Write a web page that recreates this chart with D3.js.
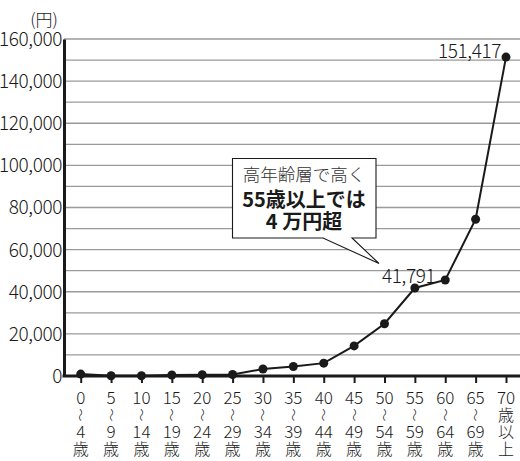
<!DOCTYPE html>
<html><head><meta charset="utf-8">
<script src="https://cdn.jsdelivr.net/npm/d3@7"></script>
<style>
html,body{margin:0;padding:0;background:#fff;}
svg{display:block;font-family:"Noto Sans CJK JP","Noto Sans",sans-serif;}
</style></head>
<body><svg id="c" width="520" height="461"></svg>
<script>
const categories = [
  ["0","4","歳"],["5","9","歳"],["10","14","歳"],["15","19","歳"],["20","24","歳"],
  ["25","29","歳"],["30","34","歳"],["35","39","歳"],["40","44","歳"],["45","49","歳"],
  ["50","54","歳"],["55","59","歳"],["60","64","歳"],["65","69","歳"],["70","歳以上"]
];
const values = [900, 100, 100, 500, 600, 700, 3300, 4500, 6100, 14300, 24800, 41791, 45600, 74400, 151417];
const yTicks = [0, 20000, 40000, 60000, 80000, 100000, 120000, 140000, 160000];
const gridValues = d3.range(10000, 160001, 10000);
const labeled = [{i: 11, text: "41,791"}, {i: 14, text: "151,417"}];
const calloutLines = ["高年齢層で高く", "55歳以上では", "4 万円超"];

const svg = d3.select("#c");
const ink = "#1a1a1a";
const lightW = 300;
const x = d3.scalePoint().domain(d3.range(categories.length)).range([80.7, 506]);
const y = d3.scaleLinear().domain([0, 160000]).range([376, 39]);

// gridlines
svg.append("g").selectAll("line").data(gridValues).join("line")
  .attr("x1", 64).attr("x2", 520)
  .attr("y1", d => y(d)).attr("y2", d => y(d))
  .attr("stroke", "#9a9a9a").attr("stroke-width", 1.3);

// y axis
const yAxis = d3.axisLeft(y).tickValues(yTicks).tickSize(0).tickPadding(2)
  .tickFormat(d3.format(","));
const gy = svg.append("g").attr("transform", "translate(64,0)").call(yAxis);
gy.select(".domain").attr("stroke", ink).attr("stroke-width", 3);
gy.selectAll("text").attr("font-size", 19).attr("font-weight", lightW).attr("fill", ink)
  .attr("letter-spacing", -0.4)
  .attr("font-family", "'Noto Sans CJK JP',sans-serif").attr("dy", "0.34em");

svg.append("text").attr("x", 44).attr("y", 26).attr("text-anchor", "middle")
  .attr("font-size", 17).attr("font-weight", lightW).attr("fill", ink).text("(円)");

// x axis
const xAxis = d3.axisBottom(x).tickSize(7).tickFormat("");
const gx = svg.append("g").attr("transform", "translate(0,376)").call(xAxis);
gx.select(".domain").attr("d", "M62.5,0H520").attr("stroke", ink).attr("stroke-width", 3);
gx.selectAll(".tick line").attr("stroke", ink).attr("stroke-width", 2);

// x tick labels (vertical stacked)
const lab = svg.append("g").attr("font-size", 17).attr("font-weight", lightW)
  .attr("fill", ink).attr("text-anchor", "middle");
categories.forEach((c, i) => {
  const cx = x(i);
  if (c.length === 3) {
    lab.append("text").attr("x", cx).attr("y", 404).text(c[0]);
    lab.append("text").attr("transform", `translate(${cx},415) rotate(90)`)
      .attr("font-size", 13).attr("dy", "0.35em").text("〜");
    lab.append("text").attr("x", cx).attr("y", 438).text(c[1]);
    lab.append("text").attr("x", cx).attr("y", 455).attr("font-size", 16).text(c[2]);
  } else {
    lab.append("text").attr("x", cx).attr("y", 404).text(c[0]);
    const rest = Array.from(c[1]);
    rest.forEach((ch, k) => lab.append("text").attr("x", cx).attr("y", 421 + k * 17)
      .attr("font-size", 16).text(ch));
  }
});

// line
const line = d3.line().x((d, i) => x(i)).y(d => y(d));
svg.append("path").datum(values).attr("d", line)
  .attr("fill", "none").attr("stroke", ink).attr("stroke-width", 2);
svg.append("g").selectAll("circle").data(values).join("circle")
  .attr("cx", (d, i) => x(i)).attr("cy", d => y(d)).attr("r", 4.5).attr("fill", ink);

// value labels
svg.append("text").attr("x", 382).attr("y", y(values[11]) - 12).attr("dy", "0.35em")
  .attr("font-size", 19).attr("font-weight", lightW).attr("letter-spacing", -0.4)
  .attr("fill", ink).text(labeled[0].text);
svg.append("text").attr("x", x(14) - 5).attr("y", y(values[14]) + 1).attr("text-anchor", "end")
  .attr("font-size", 19).attr("font-weight", lightW).attr("letter-spacing", -0.4)
  .attr("fill", ink).text(labeled[1].text);

// callout
const bx = 232.5, by = 158.5, bw = 143.5, bh = 79.5;
svg.append("path")
  .attr("d", `M${bx},${by}H${bx + bw}V${by + bh}H352L379,263.5L323,${by + bh}H${bx}Z`)
  .attr("fill", "#fff").attr("stroke", ink).attr("stroke-width", 1.1);
svg.append("text").attr("x", 304).attr("y", 175).attr("dy", "0.35em").attr("text-anchor", "middle")
  .attr("font-size", 17.5).attr("font-weight", lightW).attr("fill", "#333").text(calloutLines[0]);
svg.append("text").attr("x", 304).attr("y", 200).attr("dy", "0.35em").attr("text-anchor", "middle")
  .attr("font-size", 20).attr("font-weight", "bold").attr("fill", ink).text(calloutLines[1]);
svg.append("text").attr("x", 304).attr("y", 222).attr("dy", "0.35em").attr("text-anchor", "middle")
  .attr("font-size", 20).attr("font-weight", "bold").attr("fill", ink).text(calloutLines[2]);
</script></body></html>
